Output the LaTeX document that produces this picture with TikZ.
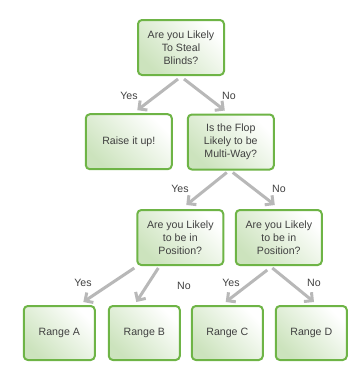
\documentclass[tikz,border=0pt]{standalone}
\usepackage{fontspec}
\setmainfont{Liberation Sans}
\usepackage{xcolor}
\usetikzlibrary{arrows.meta,calc}

\definecolor{boxgreen}{RGB}{110,180,70}
\definecolor{fillgreen}{RGB}{204,227,189}
\definecolor{arrowgray}{RGB}{184,184,184}
\definecolor{textgray}{RGB}{64,64,64}

\begin{document}
\begin{tikzpicture}[
  x=1pt,
  y=-1pt,
  font=\fontsize{10.6}{13}\selectfont,
  line cap=round,
  line join=round,
  decision/.style={
    draw=boxgreen,
    line width=2pt,
    rounded corners=4pt,
    top color=white,
    bottom color=fillgreen,
    shading angle=-45,
    text=textgray,
    align=center,
    inner sep=0pt,
    minimum width=86pt,
    minimum height=55pt
  },
  outcome/.style={decision,minimum width=71pt,minimum height=54pt},
  flow/.style={
    draw=arrowgray,
    line width=3pt,
    line cap=butt,
    -{Straight Barb[length=6pt,width=12pt,line width=3pt]}
  },
  answer/.style={text=textgray,inner sep=0pt}
]
  \path[use as bounding box] (0,0) rectangle (364,383);

  % first question and its two answers
  \node[decision] (steal) at (181,47.5) {Are you Likely\\To Steal\\Blinds?};
  \node[decision] (raise) at (128.8,141.7) {Raise it up!};
  \node[decision] (flop) at (230.8,142) {Is the Flop\\Likely to be\\Multi-Way?};
  \draw[flow] ([xshift=-3pt,yshift=-3pt]steal.south)
    -- ([xshift=8.5pt,yshift=3pt]raise.north);
  \draw[flow] ([xshift=3pt,yshift=-3pt]steal.south)
    -- ([xshift=-6pt,yshift=3pt]flop.north);
  \node[answer] (yesA) at (129,96) {Yes};
  \node[answer] (noA) at (229,96) {No};

  % position questions
  \node[decision] (posL) at (180.3,237.5) {Are you Likely\\to be in\\Position?};
  \node[decision] (posR) at (278.8,237.5) {Are you Likely\\to be in\\Position?};
  \draw[flow] ([xshift=-4pt,yshift=-2pt]flop.south)
    -- ([xshift=6pt,yshift=4pt]posL.north);
  \draw[flow] ([xshift=2pt,yshift=-2pt]flop.south)
    -- ([xshift=-4pt,yshift=4pt]posR.north);
  \node[answer] (yesB) at (180,189) {Yes};
  \node[answer] (noB) at (279,189) {No};

  % ranges
  \node[outcome] (rangeA) at (59.3,333) {Range A};
  \node[outcome] (rangeB) at (144.3,333) {Range B};
  \node[outcome] (rangeC) at (227.3,333) {Range C};
  \node[outcome] (rangeD) at (311.3,333) {Range D};
  \draw[flow] ([xshift=-46pt,yshift=-2pt]posL.south)
    -- ([xshift=24pt,yshift=3pt]rangeA.north);
  \draw[flow] ([xshift=-22pt,yshift=-2pt]posL.south)
    -- ([xshift=-8pt,yshift=3pt]rangeB.north);
  \draw[flow] ([xshift=-11.5pt,yshift=-4pt]posR.south)
    -- ([xshift=-1.6pt,yshift=3pt]rangeC.north);
  \draw[flow] ([xshift=-6.5pt,yshift=-2pt]posR.south)
    -- ([xshift=2.7pt,yshift=3pt]rangeD.north);
  \node[answer] (yesC) at (83,283) {Yes};
  \node[answer] (noC) at (184,286) {No};
  \node[answer] (yesD) at (231,283) {Yes};
  \node[answer] (noD) at (314,283) {No};
\end{tikzpicture}
\end{document}
